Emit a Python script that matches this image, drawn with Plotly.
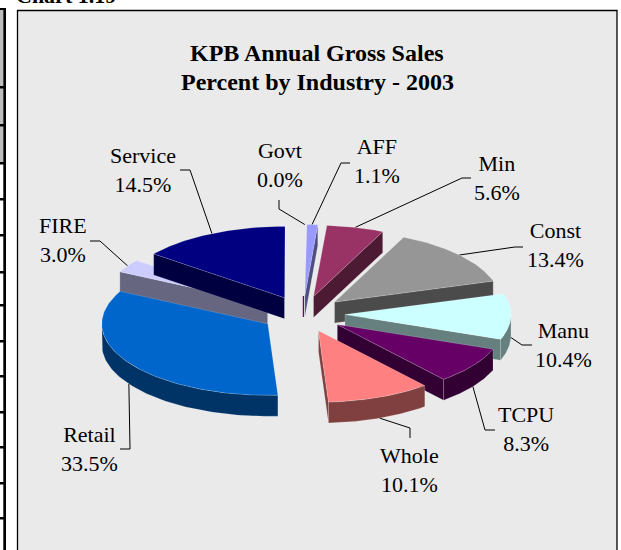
import numpy as np
import plotly.graph_objects as go

# ---- data ----
industries = ["Govt", "AFF", "Min", "Const", "Manu", "TCPU", "Whole", "Retail", "FIRE", "Service"]
percents = [0.0, 1.1, 5.6, 13.4, 10.4, 8.3, 10.1, 33.5, 3.0, 14.5]
top_colors = ["#660066", "#9999FF", "#993366", "#969696", "#CCFFFF", "#660066", "#FF8080", "#0066CC", "#CCCCFF", "#000080"]
wall_colors = ["#660066", "#4D4D80", "#4C1A33", "#4B4B4B", "#668080", "#330033", "#804040", "#003366", "#666680", "#000040"]
title_lines = ["KPB Annual Gross Sales", "Percent by Industry - 2003"]
page_heading = "Chart 1.19"

# ---- layout / styles (pixels) ----
W, H = 621, 550
CX, CY = 303.0, 314.0      # pie centre
RADIUS = 166.0
TILT = 0.43
DEPTH = 21.0
EXPLODE = 42.0
START_DEG = 0.5
PAINT_ORDER = ["Govt", "AFF", "Min", "Const", "FIRE", "Service", "Manu", "TCPU", "Retail", "Whole"]
LABEL_POS = {"Govt": (280, 164.5), "AFF": (377, 160.5), "Min": (497, 177.5), "Const": (555, 244.5),
             "Manu": (563, 344.5), "TCPU": (526, 428.5), "Whole": (409, 469.5), "Retail": (89, 448.5),
             "FIRE": (63, 239.5), "Service": (143, 169.5)}
LEADER_ELBOW = {"Govt": [(279, 200), (279, 209)], "AFF": [(350, 163), (341, 163)],
                "Min": [(471, 178), (462, 178)], "Const": [(523, 247), (515, 247)],
                "Manu": [(532, 345), (522, 345)], "TCPU": [(495, 430), (485, 430)],
                "Whole": [(410, 438), (410, 428)], "Retail": [(120, 449), (130, 449)],
                "FIRE": [(90, 241), (100, 241)], "Service": [(180, 170), (190, 170)]}
TITLE_Y = [52.5, 81.5]
SIDE_RULES = [87, 125, 163, 199, 235, 272, 305, 341, 376, 412, 447, 483, 518]
SERIF = "Liberation Serif, Times New Roman, serif"
EDGE = "rgba(255,255,255,0.28)"


def pt(apex, deg, r=RADIUS, drop=0.0):
    a = np.radians(deg)
    return apex[0] + r * np.sin(a), apex[1] - r * TILT * np.cos(a) + drop


fig = go.Figure()


def poly(xs, ys, color, edge=EDGE):
    fig.add_trace(go.Scatter(x=list(xs), y=list(ys), mode="lines", fill="toself", fillcolor=color,
                             line=dict(color=edge, width=0.6), hoverinfo="skip", showlegend=False))


def line(xs, ys, color="#000000", width=1.0):
    fig.add_trace(go.Scatter(x=list(xs), y=list(ys), mode="lines", line=dict(color=color, width=width),
                             hoverinfo="skip", showlegend=False))


# slice geometry from the values
slices = {}
cum = 0.0
for name, val, top, wall in zip(industries, percents, top_colors, wall_colors):
    a0 = START_DEG + cum * 3.6
    a1 = a0 + val * 3.6
    mid = (a0 + a1) / 2
    apex = pt((CX, CY), mid, r=EXPLODE)
    slices[name] = dict(a0=a0, a1=a1, mid=mid, apex=apex, top=top, wall=wall, val=val)
    cum += val

# leader lines sit beneath the pie
for name, s in slices.items():
    front = np.cos(np.radians(s["mid"])) < 0
    ax, ay = pt(s["apex"], s["mid"], drop=DEPTH if front else 0.0)
    pts = LEADER_ELBOW[name] + [(ax, ay)]
    line([p[0] for p in pts], [p[1] for p in pts])

# wedges, back to front
for name in PAINT_ORDER:
    s = slices[name]
    a0, a1, apex = s["a0"], s["a1"], s["apex"]
    if s["val"] == 0:
        line([apex[0], apex[0]], [apex[1], apex[1] + DEPTH], color=s["wall"], width=1.2)
        continue
    # visible cut faces
    for deg, visible in ((a0, np.sin(np.radians(a0)) < 0), (a1, np.sin(np.radians(a1)) > 0)):
        if visible:
            ox, oy = pt(apex, deg)
            poly([apex[0], ox, ox, apex[0], apex[0]],
                 [apex[1], oy, oy + DEPTH, apex[1] + DEPTH, apex[1]], s["wall"])
    # rim
    lo, hi = max(a0, 90.0), min(a1, 270.0)
    if hi > lo:
        t = np.linspace(lo, hi, 80)
        rx, ry = pt(apex, t)
        poly(np.r_[rx, rx[::-1], rx[0]], np.r_[ry, ry[::-1] + DEPTH, ry[0]], s["wall"])
    # top
    t = np.linspace(a0, a1, 120)
    tx, ty = pt(apex, t)
    poly(np.r_[apex[0], tx, apex[0]], np.r_[apex[1], ty, apex[1]], s["top"])

# text
annotations = []
for name, val in zip(industries, percents):
    x, y = LABEL_POS[name]
    annotations.append(dict(x=x, y=y, xref="x", yref="y", text=f"{name}<br>{val:.1f}%", showarrow=False,
                            xanchor="center", yanchor="middle", font=dict(family=SERIF, size=22, color="#000000")))
for text, y in zip(title_lines, TITLE_Y):
    annotations.append(dict(x=317, y=y, xref="x", yref="y", text=f"<b>{text}</b>",
                            showarrow=False, xanchor="center", yanchor="middle",
                            font=dict(family=SERIF, size=24, color="#000000")))
annotations.append(dict(x=14 / W, y=1 + 5 / H, xref="paper", yref="paper", text=f"<b>{page_heading}</b>",
                        showarrow=False, xanchor="left", yanchor="middle",
                        font=dict(family=SERIF, size=22, color="#000000")))

# page furniture
shapes = [
    dict(type="rect", xref="x", yref="y", x0=0, x1=3.3, y0=9, y1=163, fillcolor="#BDBDBD", line_width=0, layer="below"),
    dict(type="rect", xref="x", yref="y", x0=3.3, x1=6, y0=8, y1=H + 5, fillcolor="#000000", line_width=0, layer="below"),
    dict(type="rect", xref="x", yref="y", x0=0, x1=6, y0=8, y1=10, fillcolor="#000000", line_width=0, layer="below"),
    dict(type="rect", xref="x", yref="y", x0=17.5, x1=617, y0=10.5, y1=H + 10, fillcolor="#EAEAEA",
         line=dict(color="#000000", width=1.3), layer="below"),
]
for y in SIDE_RULES:
    shapes.append(dict(type="rect", xref="x", yref="y", x0=0, x1=6, y0=y - 1, y1=y + 1.5,
                       fillcolor="#000000", line_width=0, layer="below"))

fig.update_layout(
    width=W, height=H, margin=dict(l=0, r=0, t=0, b=0), autosize=False,
    paper_bgcolor="#FFFFFF", plot_bgcolor="#FFFFFF", showlegend=False,
    xaxis=dict(range=[0, W], visible=False, fixedrange=True),
    yaxis=dict(range=[H, 0], visible=False, fixedrange=True),
    shapes=shapes, annotations=annotations,
)
fig.write_html("out.html", config={"displayModeBar": False},
               post_script="document.body.style.margin='0';document.documentElement.style.overflow='hidden';")
